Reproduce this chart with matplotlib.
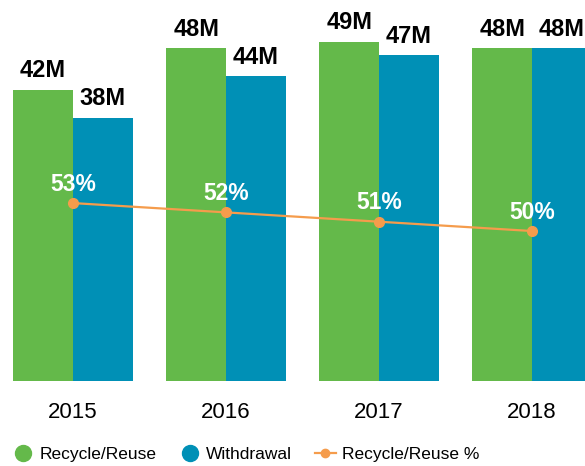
import numpy as np
import matplotlib.pyplot as plt
from matplotlib.lines import Line2D

years = ['2015', '2016', '2017', '2018']
recycle = [42, 48, 49, 48]
withdrawal = [38, 44, 47, 48]
recycle_pct = [53, 52, 51, 50]

green = '#64b94a'
blue = '#0090b6'
orange = '#f59c4c'

plt.rcParams['font.family'] = ['Liberation Sans', 'DejaVu Sans']

fig = plt.figure(figsize=(5.85, 4.66), dpi=100)
# axes spanning from x=0 to right edge, baseline at y=381px, top at 0
ax = fig.add_axes([0, 1 - 381 / 466, 1, 381 / 466])
ax2 = ax.twinx()

x = np.arange(len(years))
w = 0.39
ax.bar(x - w / 2, recycle, w, color=green, zorder=2)
ax.bar(x + w / 2, withdrawal, w, color=blue, zorder=2)

for i in range(len(years)):
    ax.text(x[i] - w / 2, recycle[i] + 1.1, f'{recycle[i]}M', ha='center', va='bottom',
            fontsize=17, fontweight='bold', color='black')
    ax.text(x[i] + w / 2, withdrawal[i] + 1.1, f'{withdrawal[i]}M', ha='center', va='bottom',
            fontsize=17, fontweight='bold', color='black')

ax2.plot(x, recycle_pct, color=orange, marker='o', markersize=7, linewidth=1.6, zorder=3)
for i in range(len(years)):
    ax2.text(x[i], recycle_pct[i] + 0.8, f'{recycle_pct[i]}%', ha='center', va='bottom',
             fontsize=16.5, fontweight='bold', color='white')

ax.set_xlim(-73 / 153, 512 / 153)
ax.set_ylim(0, 55)
ax2.set_ylim(33.9, 74.8)

ax.set_xticks(x)
ax.set_xticklabels(years, fontsize=16)
ax.tick_params(axis='x', length=0, pad=15)
ax.set_yticks([])
ax2.set_yticks([])
for a in (ax, ax2):
    for s in a.spines.values():
        s.set_visible(False)

handles = [
    Line2D([], [], marker='o', color='none', markerfacecolor=green, markeredgecolor=green, markersize=11.5),
    Line2D([], [], marker='o', color='none', markerfacecolor=blue, markeredgecolor=blue, markersize=11.5),
    Line2D([], [], marker='o', color=orange, markersize=6, linewidth=1.6),
]
fig.legend(handles, ['Recycle/Reuse', 'Withdrawal', 'Recycle/Reuse %'], loc='center left',
           bbox_to_anchor=(13 / 585, 12 / 466), ncol=3, frameon=False, fontsize=12.5,
           borderpad=0, borderaxespad=0, handlelength=1.2, handletextpad=0.35, columnspacing=1.3)

fig.savefig('out.png', dpi=100)
